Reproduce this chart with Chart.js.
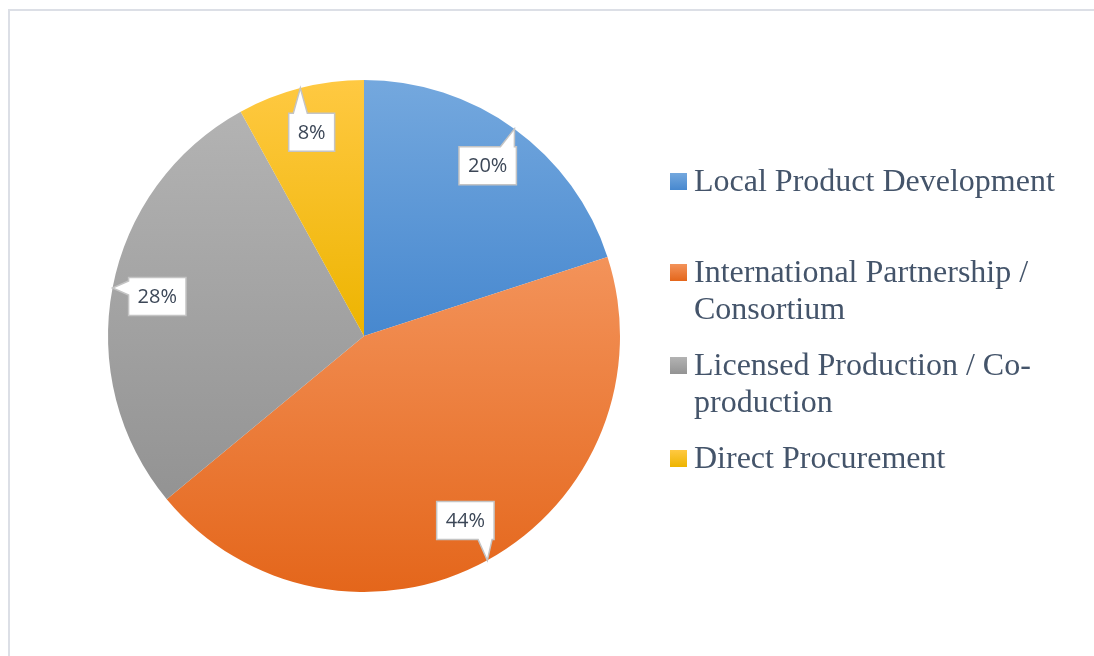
<!DOCTYPE html>
<html>
<head>
<meta charset="utf-8">
<script src="https://cdn.jsdelivr.net/npm/chart.js@4.4.1/dist/chart.umd.min.js"></script>
<style>
  body { margin: 0; background: #fff; }
  #wrap { position: relative; width: 1094px; height: 656px; overflow: hidden; }
  #frame { position: absolute; left: 8px; top: 9px; width: 1200px; height: 800px; border: 2px solid #dcdfe6; }
  #pie { position: absolute; left: 0; top: 0; }
  .entry { position: absolute; left: 694px; width: 385px; font-family: "Liberation Serif", "Times New Roman", serif;
           font-size: 32px; line-height: 37px; color: #44546a; }
  .mark { position: absolute; left: -24px; top: 11px; width: 17px; height: 17px; }
</style>
</head>
<body>
<div id="wrap">
  <div id="frame"></div>
  <canvas id="pie" width="1094" height="656"></canvas>
  <div id="legend"></div>
</div>
<script>
const labels = ['Local Product Development', 'International Partnership / Consortium', 'Licensed Production / Co-production', 'Direct Procurement'];
const values = [20, 44, 28, 8];
const lightColors = ['#74a8de', '#f3935a', '#b3b3b3', '#ffc942'];
const darkColors = ['#4788cf', '#e4661b', '#939393', '#edb400'];
const legendTops = [162, 253, 346, 439];

// Vertical gradient over the bounding box of each slice
function sliceGradient(context) {
    const chart = context.chart;
    const i = context.dataIndex;
    const area = chart.chartArea;
    if (!area) return lightColors[i];
    const cx = (area.left + area.right) / 2;
    const cy = (area.top + area.bottom) / 2;
    const r = Math.min(area.right - area.left, area.bottom - area.top) / 2;
    const total = values.reduce((s, v) => s + v, 0);
    const before = values.slice(0, i).reduce((s, v) => s + v, 0);
    const a0 = -Math.PI / 2 + 2 * Math.PI * before / total;
    const a1 = a0 + 2 * Math.PI * values[i] / total;
    let ys = [cy, cy + Math.sin(a0) * r, cy + Math.sin(a1) * r];
    for (let k = -1; k <= 4; k++) {
        const a = k * Math.PI / 2;
        if (a > a0 && a < a1) ys.push(cy + Math.sin(a) * r);
    }
    const g = chart.ctx.createLinearGradient(0, Math.min(...ys), 0, Math.max(...ys));
    g.addColorStop(0, lightColors[i]);
    g.addColorStop(1, darkColors[i]);
    return g;
}

// Callout boxes with a pointer to the slice edge
const calloutPlugin = {
    id: 'callouts',
    afterDatasetsDraw(chart) {
        const ctx = chart.ctx;
        const total = values.reduce((s, v) => s + v, 0);
        chart.getDatasetMeta(0).data.forEach((arc, i) => {
            const mid = (arc.startAngle + arc.endAngle) / 2;
            const R = arc.outerRadius;
            const tx = arc.x + Math.cos(mid) * R;
            const ty = arc.y + Math.sin(mid) * R;
            const bx = arc.x + Math.cos(mid) * R * 0.822;
            const by = arc.y + Math.sin(mid) * R * 0.822;
            const text = Math.round(values[i] / total * 100) + '%';
            ctx.save();
            ctx.font = '20px "Open Sans", sans-serif';
            const w = ctx.measureText(text).width + 18;
            const h = 38;
            const l = bx - w / 2, t = by - h / 2, r = bx + w / 2, b = by + h / 2;
            const hw = 7;
            const clamp = (v, lo, hi) => Math.max(lo, Math.min(hi, v));
            let side = 'right';
            if (ty < t) side = 'top';
            else if (ty > b) side = 'bottom';
            else if (tx < l) side = 'left';
            ctx.beginPath();
            ctx.moveTo(l, t);
            if (side === 'top') {
                const c = clamp(tx, l + hw + 2, r - hw - 2);
                ctx.lineTo(c - hw, t); ctx.lineTo(tx, ty); ctx.lineTo(c + hw, t);
            }
            ctx.lineTo(r, t);
            if (side === 'right') {
                const c = clamp(ty, t + hw + 2, b - hw - 2);
                ctx.lineTo(r, c - hw); ctx.lineTo(tx, ty); ctx.lineTo(r, c + hw);
            }
            ctx.lineTo(r, b);
            if (side === 'bottom') {
                const c = clamp(tx, l + hw + 2, r - hw - 2);
                ctx.lineTo(c + hw, b); ctx.lineTo(tx, ty); ctx.lineTo(c - hw, b);
            }
            ctx.lineTo(l, b);
            if (side === 'left') {
                const c = clamp(ty, t + hw + 2, b - hw - 2);
                ctx.lineTo(l, c + hw); ctx.lineTo(tx, ty); ctx.lineTo(l, c - hw);
            }
            ctx.closePath();
            ctx.fillStyle = '#ffffff';
            ctx.fill();
            ctx.lineWidth = 1.5;
            ctx.strokeStyle = '#c4c4c4';
            ctx.stroke();
            ctx.fillStyle = '#3c4757';
            ctx.textAlign = 'center';
            ctx.textBaseline = 'middle';
            ctx.fillText(text, bx, by + 1);
            ctx.restore();
        });
    }
};

new Chart(document.getElementById('pie'), {
    type: 'pie',
    data: {
        labels: labels,
        datasets: [{
            data: values,
            backgroundColor: sliceGradient,
            borderWidth: 0
        }]
    },
    options: {
        responsive: false,
        animation: false,
        layout: { padding: { left: 108, right: 474, top: 80, bottom: 64 } },
        plugins: {
            legend: { display: false },
            tooltip: { enabled: false }
        }
    },
    plugins: [calloutPlugin]
});

// Legend on the right
const legend = document.getElementById('legend');
labels.forEach((label, i) => {
    const entry = document.createElement('div');
    entry.className = 'entry';
    entry.style.top = legendTops[i] + 'px';
    const mark = document.createElement('div');
    mark.className = 'mark';
    mark.style.background = `linear-gradient(${lightColors[i]}, ${darkColors[i]})`;
    entry.appendChild(mark);
    entry.appendChild(document.createTextNode(label));
    legend.appendChild(entry);
});
</script>
</body>
</html>
